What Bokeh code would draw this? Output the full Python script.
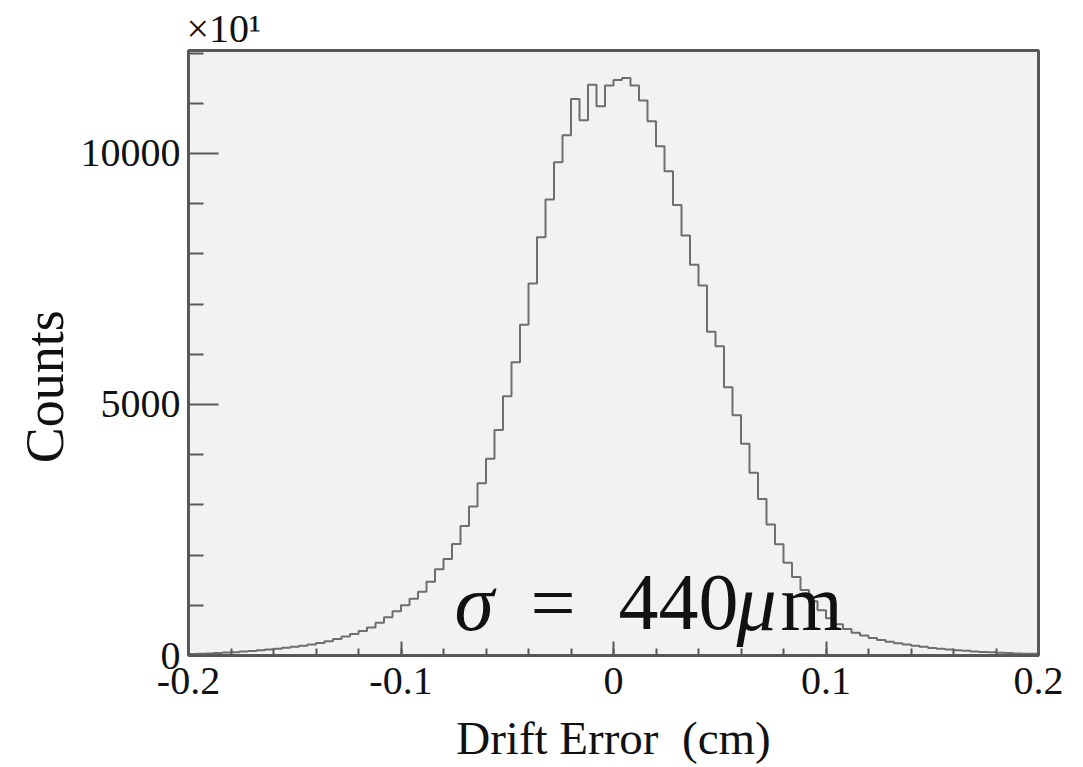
import numpy as np
from bokeh.plotting import figure
from bokeh.models import FixedTicker, Label, ColumnDataSource, Range1d, Title
from bokeh.embed import file_html
from bokeh.resources import INLINE

# ---- data ----
bin_lo = -0.2
bin_hi = 0.2
n_bins = 100
counts = [
    30, 35, 42, 50, 58, 66, 78, 90, 105, 120,
    135, 152, 172, 195, 220, 250, 285, 330, 380, 430,
    490, 560, 650, 760, 880, 1000, 1130, 1270, 1470, 1720,
    1920, 2220, 2580, 2970, 3430, 3920, 4490, 5165, 5840, 6590,
    7410, 8330, 9080, 9825, 10360, 11085, 10660, 11370, 10940, 11355,
    11460, 11500, 11355, 11056, 10643, 10145, 9647, 8972, 8367, 7783,
    7370, 6446, 6161, 5343, 4785, 4218, 3640, 3118, 2610, 2215,
    1845, 1565, 1305, 1080, 900, 740, 620, 530, 455, 400,
    350, 310, 275, 245, 218, 195, 172, 150, 133, 118,
    105, 93, 82, 72, 63, 55, 48, 42, 37, 33,
]
x_ticks = [-0.2, -0.1, 0.0, 0.1, 0.2]
x_tick_labels = ["-0.2", "-0.1", "0", "0.1", "0.2"]
y_ticks = [0, 5000, 10000]
y_tick_labels = ["0", "5000", "10000"]
y_minor = [1000, 2000, 3000, 4000, 6000, 7000, 8000, 9000, 11000, 12000]
x_minor = [round(-0.2 + 0.02 * i, 3) for i in range(21)]
x_title = "Drift Error\u00a0 (cm)"
y_title = "Counts"
exponent_text = "×10¹"

edges = np.linspace(bin_lo, bin_hi, n_bins + 1)
step_x = list(edges)
step_y = list(counts) + [counts[-1]]
src = ColumnDataSource(dict(x=step_x, y=step_y))

FONT = "Liberation Serif"
INK = "#111111"
FRAME = "#585858"

p = figure(width=1083, height=767, output_backend="svg", toolbar_location=None,
           x_range=Range1d(-0.2, 0.2), y_range=Range1d(0, 12050),
           min_border_left=188, min_border_right=45, min_border_top=50,
           min_border_bottom=112)
p.background_fill_color = "#f2f2f2"
p.border_fill_color = "white"
p.outline_line_color = FRAME
p.outline_line_width = 3
p.grid.visible = False

p.step(x="x", y="y", source=src, mode="after", line_color="#6e6e6e", line_width=2)

xa = p.xaxis[0]
xa.ticker = FixedTicker(ticks=x_ticks, minor_ticks=x_minor)
xa.major_label_overrides = {t: l for t, l in zip(x_ticks, x_tick_labels)}
ya = p.yaxis[0]
ya.ticker = FixedTicker(ticks=y_ticks, minor_ticks=y_minor)
ya.major_label_overrides = {t: l for t, l in zip(y_ticks, y_tick_labels)}

for ax in (xa, ya):
    ax.axis_line_color = FRAME
    ax.axis_line_width = 3
    ax.major_tick_line_color = FRAME
    ax.minor_tick_line_color = FRAME
    ax.major_tick_line_width = 2
    ax.minor_tick_line_width = 2
    ax.major_tick_out = 0
    ax.minor_tick_out = 0
    ax.major_label_text_font = FONT
    ax.major_label_text_font_size = "40px"
    ax.major_label_text_color = INK
    ax.axis_label_text_font = FONT
    ax.axis_label_text_font_style = "normal"
    ax.axis_label_text_color = INK
xa.major_tick_in = 14
xa.minor_tick_in = 7
ya.major_tick_in = 30
ya.minor_tick_in = 15
xa.major_label_standoff = 12
ya.major_label_standoff = 8

xa.axis_label = x_title
xa.axis_label_text_font_size = "47px"
xa.axis_label_standoff = 15
ya.axis_label = y_title + "\u00a0" * 5
ya.axis_label_text_font_size = "54px"
ya.axis_label_standoff = 3

# exponent marker above the frame
p.add_layout(Title(text=exponent_text, align="left", text_font=FONT,
                   text_font_size="40px", text_font_style="normal",
                   text_color=INK, standoff=0, offset=-2), "above")

# sigma annotation
def px2x(px):
    return (px - 188) / 2125.0 - 0.2

mid = 1050
parts = [("σ", 454, "italic"), ("=", 530, "normal"), ("440", 618, "normal"),
         ("μ", 736, "italic"), ("m", 780, "normal")]
for txt, left, style in parts:
    p.add_layout(Label(x=px2x(left), y=mid, text=txt, text_font=FONT,
                       text_font_size="80px", text_font_style=style,
                       text_align="left", text_baseline="middle",
                       text_color=INK))

open("out.html", "w").write(file_html(p, INLINE))
